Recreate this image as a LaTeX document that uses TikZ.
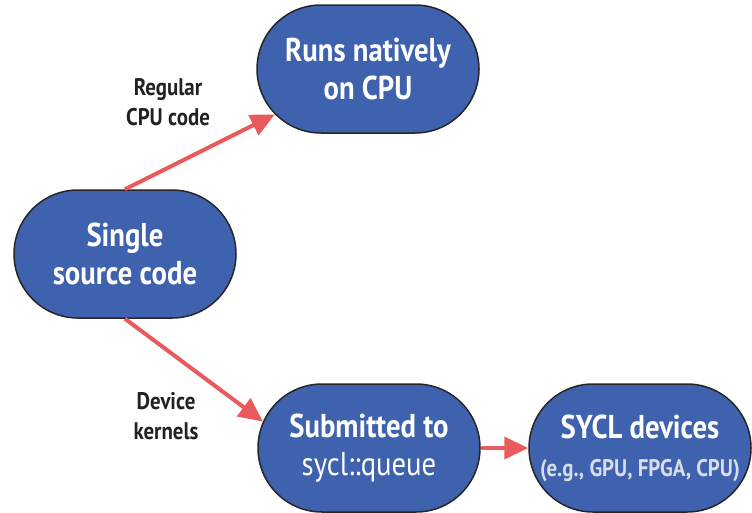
\documentclass[tikz,border=0pt]{standalone}
\usepackage{fontspec}
\setmainfont{PT Sans}
\newfontfamily\condfont{PT Sans}[FakeStretch=0.87]
\usetikzlibrary{shapes.misc,arrows.meta}
\definecolor{nodeblue}{HTML}{3F62AE}
\definecolor{arrowred}{HTML}{E85A5B}
\definecolor{labeldark}{HTML}{222222}
\definecolor{softwhite}{HTML}{D8DDE8}
\tikzset{
  stadium/.style={rounded rectangle, draw=black!85, line width=1.5pt, fill=nodeblue,
    minimum width=222pt, minimum height=128pt, inner sep=0pt, align=center,
    text=white, font=\condfont\fontsize{33}{38}\selectfont\bfseries},
  flow/.style={draw=arrowred, line width=4pt, -{Triangle[length=24pt,width=22pt]}},
  lbl/.style={align=center, text=labeldark, font=\condfont\fontsize{24}{30}\selectfont\bfseries}
}
\begin{document}
\begin{tikzpicture}[x=1pt,y=-1pt]
\useasboundingbox (0,0) rectangle (752,512);
\node[stadium] (single) at (125,254) {Single\\source code};
\node[stadium] (runs) at (368,69) {Runs natively\\on CPU};
\node[stadium] (sub) at (369,448) {Submitted to\\{\mdseries sycl::queue}};
\node[stadium] (sycl) at (640,448) {SYCL devices\\{\fontsize{24}{30}\selectfont\bfseries\color{softwhite}(e.g., GPU, FPGA, CPU)}};
\node[lbl] (l1) at (168,102) {Regular\\CPU code};
\node[lbl] (l2) at (166,416) {Device\\kernels};
\draw[flow] (single.north) -- (runs.206);
\draw[flow] (single.south) -- (sub.166);
\draw[flow] (sub.east) -- (sycl.west);
\end{tikzpicture}
\end{document}
